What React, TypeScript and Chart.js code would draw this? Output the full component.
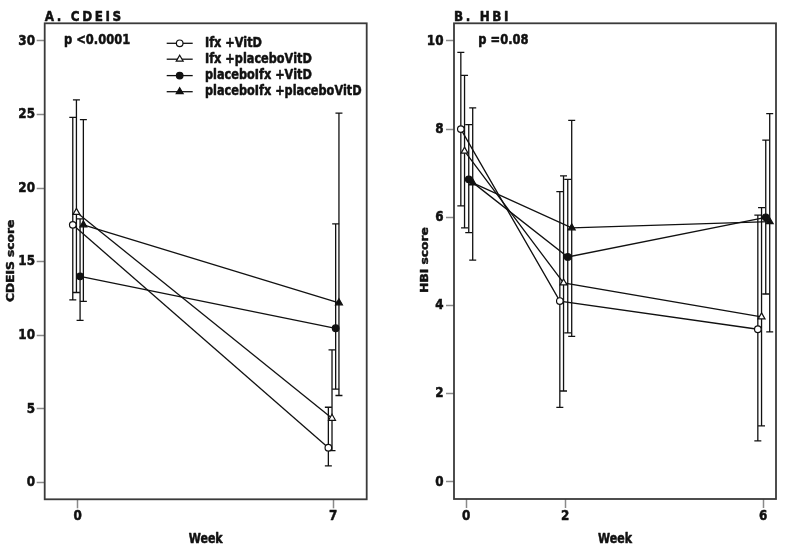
import React, { useEffect, useRef } from "react";
import { Chart, registerables } from "chart.js";

Chart.register(...registerables);

// ---------- data ----------
const seriesNames = ["Ifx +VitD", "Ifx +placeboVitD", "placeboIfx +VitD", "placeboIfx +placeboVitD"];
const seriesMarkers = ["circle", "triangle", "circle", "triangle"];
const seriesFilled = [false, false, true, true];

// Panel A: CDEIS
const cdeisWeeks = [0, 7];
const cdeisXTicks = [0, 7];
const cdeisYTicks = [0, 5, 10, 15, 20, 25, 30];
const cdeisIfxVitD = [17.5, 2.35];
const cdeisIfxPlaceboVitD = [18.35, 4.35];
const cdeisPlaceboIfxVitD = [14.0, 10.47];
const cdeisPlaceboIfxPlaceboVitD = [17.5, 12.2];
const cdeisLowIfxVitD = [12.4, 1.11];
const cdeisHighIfxVitD = [24.8, 5.1];
const cdeisLowIfxPlaceboVitD = [12.9, 2.15];
const cdeisHighIfxPlaceboVitD = [26.0, 9.0];
const cdeisLowPlaceboIfxVitD = [11.0, 6.33];
const cdeisHighPlaceboIfxVitD = [17.9, 17.57];
const cdeisLowPlaceboIfxPlaceboVitD = [12.3, 5.9];
const cdeisHighPlaceboIfxPlaceboVitD = [24.65, 25.1];

// Panel B: HBI
const hbiWeeks = [0, 2, 6];
const hbiXTicks = [0, 2, 6];
const hbiYTicks = [0, 2, 4, 6, 8, 10];
const hbiIfxVitD = [8.0, 4.1, 3.46];
const hbiIfxPlaceboVitD = [7.5, 4.51, 3.74];
const hbiPlaceboIfxVitD = [6.86, 5.1, 6.0];
const hbiPlaceboIfxPlaceboVitD = [6.78, 5.76, 5.9];
const hbiLowIfxVitD = [6.26, 1.69, 0.93];
const hbiHighIfxVitD = [9.74, 6.58, 6.05];
const hbiLowIfxPlaceboVitD = [5.76, 2.06, 1.27];
const hbiHighIfxPlaceboVitD = [9.22, 6.94, 6.22];
const hbiLowPlaceboIfxVitD = [5.65, 3.38, 4.26];
const hbiHighPlaceboIfxVitD = [8.1, 6.86, 7.75];
const hbiLowPlaceboIfxPlaceboVitD = [5.03, 3.3, 3.4];
const hbiHighPlaceboIfxPlaceboVitD = [8.48, 8.2, 8.35];

// ---------- styling ----------
const INK = "#111111";
const FONT = "'DejaVu Sans', sans-serif";
const SY = 1.22; // vertical stretch of the lettering in the reference
Chart.defaults.font.family = FONT;

type PanelCfg = {
  canvasLeft: number;
  canvasWidth: number;
  yAxisW: number;
  xAxisH: number;
  padRight: number;
  padTop: number;
  xMin: number;
  xMax: number;
  yMin: number;
  yMax: number;
  xTicks: number[];
  yTicks: number[];
  weeks: number[];
  means: number[][];
  lows: number[][];
  highs: number[][];
  dodge: number[];
  title: string;
  pText: string;
  pX: number;
  yTitle: string;
  yTitleX: number;
  yTitleY: number;
  xTitleX: number;
  yLabelRight: number;
  legend: boolean;
};

const H = 551;

const panelA: PanelCfg = {
  canvasLeft: 0,
  canvasWidth: 392,
  yAxisW: 44.7,
  xAxisH: H - 499.3,
  padRight: 392 - 366.7,
  padTop: 23.3,
  xMin: -0.904,
  xMax: 7.915,
  yMin: -1.156,
  yMax: 31.2,
  xTicks: cdeisXTicks,
  yTicks: cdeisYTicks,
  weeks: cdeisWeeks,
  means: [cdeisIfxVitD, cdeisIfxPlaceboVitD, cdeisPlaceboIfxVitD, cdeisPlaceboIfxPlaceboVitD],
  lows: [cdeisLowIfxVitD, cdeisLowIfxPlaceboVitD, cdeisLowPlaceboIfxVitD, cdeisLowPlaceboIfxPlaceboVitD],
  highs: [cdeisHighIfxVitD, cdeisHighIfxPlaceboVitD, cdeisHighPlaceboIfxVitD, cdeisHighPlaceboIfxPlaceboVitD],
  dodge: [-0.135, -0.035, 0.065, 0.155],
  title: "A. CDEIS",
  pText: "p <0.0001",
  pX: 64,
  yTitle: "CDEIS score",
  yTitleX: 11,
  yTitleY: 260.8,
  xTitleX: 205.7,
  yLabelRight: 35,
  legend: true,
};

const panelB: PanelCfg = {
  canvasLeft: 392,
  canvasWidth: 393,
  yAxisW: 454 - 392,
  xAxisH: H - 499,
  padRight: 393 - (776 - 392),
  padTop: 23.3,
  xMin: -0.248,
  xMax: 6.257,
  yMin: -0.39,
  yMax: 10.4,
  xTicks: hbiXTicks,
  yTicks: hbiYTicks,
  weeks: hbiWeeks,
  means: [hbiIfxVitD, hbiIfxPlaceboVitD, hbiPlaceboIfxVitD, hbiPlaceboIfxPlaceboVitD],
  lows: [hbiLowIfxVitD, hbiLowIfxPlaceboVitD, hbiLowPlaceboIfxVitD, hbiLowPlaceboIfxPlaceboVitD],
  highs: [hbiHighIfxVitD, hbiHighIfxPlaceboVitD, hbiHighPlaceboIfxVitD, hbiHighPlaceboIfxPlaceboVitD],
  dodge: [-0.11, -0.035, 0.05, 0.13],
  title: "B. HBI",
  pText: "p =0.08",
  pX: 478.3 - 392,
  yTitle: "HBI score",
  yTitleX: 425 - 392,
  yTitleY: 260,
  xTitleX: 615 - 392,
  yLabelRight: 443.5 - 392,
  legend: false,
};

function text(
  ctx: CanvasRenderingContext2D,
  str: string,
  x: number,
  y: number,
  size: number,
  align: CanvasTextAlign,
  baseline: CanvasTextBaseline,
  rotate = false,
  spacing = 0
) {
  ctx.save();
  ctx.translate(x, y);
  if (rotate) {
    ctx.rotate(-Math.PI / 2);
    ctx.scale(SY, 1);
  } else {
    ctx.scale(1, SY);
  }
  ctx.font = `bold ${size}px ${FONT}`;
  (ctx as any).letterSpacing = `${spacing}px`;
  ctx.textAlign = align;
  ctx.textBaseline = baseline;
  ctx.fillStyle = INK;
  ctx.strokeStyle = INK;
  ctx.lineWidth = 0.45;
  ctx.lineJoin = "round";
  ctx.fillText(str, 0, 0);
  ctx.strokeText(str, 0, 0);
  ctx.restore();
}

function drawMarker(ctx: CanvasRenderingContext2D, style: string, filled: boolean, x: number, y: number) {
  ctx.save();
  ctx.lineWidth = 1.2;
  ctx.strokeStyle = INK;
  ctx.fillStyle = filled ? INK : "#ffffff";
  ctx.beginPath();
  if (style === "circle") {
    ctx.arc(x, y, 3.3, 0, Math.PI * 2);
  } else {
    const r = 4;
    ctx.moveTo(x, y - r);
    ctx.lineTo(x + r * 0.866, y + r * 0.5);
    ctx.lineTo(x - r * 0.866, y + r * 0.5);
    ctx.closePath();
  }
  ctx.fill();
  ctx.stroke();
  ctx.restore();
}

function makeDecor(cfg: PanelCfg) {
  return {
    id: "decor",
    beforeDatasetsDraw(chart: any) {
      const ctx: CanvasRenderingContext2D = chart.ctx;
      const xs = chart.scales.x;
      const ys = chart.scales.y;
      ctx.save();
      ctx.strokeStyle = INK;
      ctx.lineWidth = 1.3;
      cfg.lows.forEach((lows, s) => {
        lows.forEach((lo, i) => {
          const px = xs.getPixelForValue(cfg.weeks[i] + cfg.dodge[s]);
          const y1 = ys.getPixelForValue(lo);
          const y2 = ys.getPixelForValue(cfg.highs[s][i]);
          ctx.beginPath();
          ctx.moveTo(px, y1);
          ctx.lineTo(px, y2);
          ctx.moveTo(px - 3.5, y1);
          ctx.lineTo(px + 3.5, y1);
          ctx.moveTo(px - 3.5, y2);
          ctx.lineTo(px + 3.5, y2);
          ctx.stroke();
        });
      });
      ctx.restore();
    },
    afterDraw(chart: any) {
      const ctx: CanvasRenderingContext2D = chart.ctx;
      const a = chart.chartArea;
      const xs = chart.scales.x;
      const ys = chart.scales.y;
      ctx.save();
      // frame
      ctx.strokeStyle = "#3a3a3a";
      ctx.lineWidth = 1.8;
      ctx.strokeRect(a.left, a.top, a.right - a.left, a.bottom - a.top);
      ctx.restore();

      // tick labels (positioned by the library's scales)
      cfg.yTicks.forEach((v) => {
        text(ctx, String(v), cfg.yLabelRight, ys.getPixelForValue(v), 12, "right", "middle");
      });
      cfg.xTicks.forEach((v) => {
        text(ctx, String(v), xs.getPixelForValue(v), 515.7, 12, "center", "middle");
      });

      // panel title
      text(ctx, cfg.title, a.left, 20.7, 12, "left", "alphabetic", false, 2.6);
      // p value
      text(ctx, cfg.pText, cfg.pX, 40, 11.5, "left", "middle");
      // x title
      text(ctx, "Week", cfg.xTitleX, 540, 11, "center", "middle");
      // y title
      text(ctx, cfg.yTitle, cfg.yTitleX, cfg.yTitleY, 10, "center", "middle", true);

      // legend
      if (cfg.legend) {
        const rows = [43.3, 59.2, 75.6, 91.7];
        seriesNames.forEach((name, s) => {
          const y = rows[s];
          ctx.save();
          ctx.strokeStyle = INK;
          ctx.lineWidth = 1.3;
          ctx.beginPath();
          ctx.moveTo(166.7, y);
          ctx.lineTo(192.7, y);
          ctx.stroke();
          ctx.restore();
          drawMarker(ctx, seriesMarkers[s], seriesFilled[s], 179.7, y);
          text(ctx, name, 205, y, 11.3, "left", "middle");
        });
      }
    },
  };
}

function Panel({ cfg }: { cfg: PanelCfg }) {
  const ref = useRef<HTMLCanvasElement | null>(null);
  useEffect(() => {
    if (!ref.current) return;
    const datasets = cfg.means.map((vals, s) => ({
      label: seriesNames[s],
      data: vals.map((v, i) => ({ x: cfg.weeks[i] + cfg.dodge[s], y: v })),
      showLine: true,
      borderColor: INK,
      borderWidth: 1.3,
      pointStyle: seriesMarkers[s],
      pointRadius: seriesMarkers[s] === "triangle" ? 4 : 3.3,
      pointBorderWidth: 1.2,
      pointBorderColor: INK,
      pointBackgroundColor: seriesFilled[s] ? INK : "#ffffff",
    }));
    const chart = new Chart(ref.current, {
      type: "scatter",
      data: { datasets } as any,
      plugins: [makeDecor(cfg)],
      options: {
        animation: false,
        responsive: false,
        maintainAspectRatio: false,
        layout: { padding: { left: 0, top: cfg.padTop, right: cfg.padRight, bottom: 0 } },
        plugins: { legend: { display: false }, tooltip: { enabled: false }, title: { display: false } },
        scales: {
          x: {
            type: "linear",
            min: cfg.xMin,
            max: cfg.xMax,
            afterBuildTicks: (s: any) => {
              s.ticks = cfg.xTicks.map((v) => ({ value: v }));
            },
            afterFit: (s: any) => {
              s.height = cfg.xAxisH;
            },
            grid: {
              drawOnChartArea: false,
              drawTicks: true,
              tickLength: 9,
              tickColor: "#8a8a8a",
              tickWidth: 1.5,
            },
            border: { display: false },
            ticks: { display: false, autoSkip: false },
          },
          y: {
            type: "linear",
            min: cfg.yMin,
            max: cfg.yMax,
            afterBuildTicks: (s: any) => {
              s.ticks = cfg.yTicks.map((v) => ({ value: v }));
            },
            afterFit: (s: any) => {
              s.width = cfg.yAxisW;
            },
            grid: {
              drawOnChartArea: false,
              drawTicks: true,
              tickLength: 8,
              tickColor: "#8a8a8a",
              tickWidth: 1.5,
            },
            border: { display: false },
            ticks: { display: false, autoSkip: false },
          },
        },
      } as any,
    });
    return () => chart.destroy();
  }, [cfg]);
  return (
    <canvas
      ref={ref}
      width={cfg.canvasWidth}
      height={H}
      style={{ position: "absolute", left: cfg.canvasLeft, top: 0, width: cfg.canvasWidth, height: H }}
    />
  );
}

export default function App() {
  return (
    <div style={{ position: "absolute", left: 0, top: 0, width: 785, height: H, background: "#ffffff" }}>
      <Panel cfg={panelA} />
      <Panel cfg={panelB} />
    </div>
  );
}
